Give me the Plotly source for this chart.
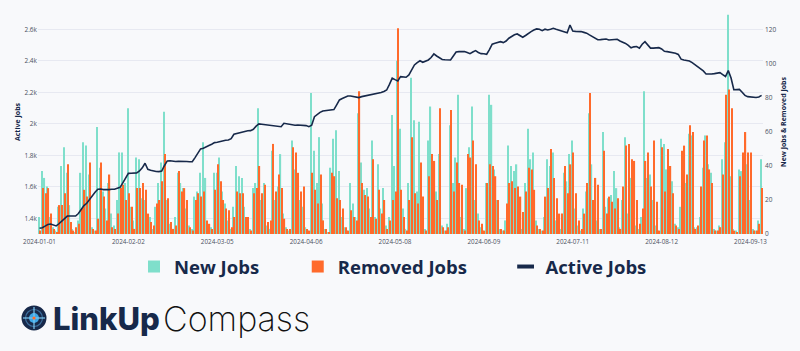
import plotly.graph_objects as go
import pandas as pd

# ---------------- data ----------------
x_tick_labels = ["2024-01-01", "2024-02-02", "2024-03-05", "2024-04-06", "2024-05-08",
                 "2024-06-09", "2024-07-11", "2024-08-12", "2024-09-13"]

new_jobs = [
    10, 37, 33, 28, 10, 4, 2,
    16, 40, 51, 36, 17, 3, 1,
    8, 36, 54, 52, 35, 4, 2,
    63, 39, 25, 15, 30, 12, 5,
    20, 48, 48, 30, 74, 16, 8,
    45, 44, 21, 20, 10, 10, 3,
    16, 30, 42, 72, 20, 6, 3,
    10, 36, 30, 27, 15, 5, 3,
    22, 25, 36, 54, 33, 5, 4,
    36, 36, 45, 25, 18, 8, 3,
    16, 40, 34, 33, 16, 5, 3,
    27, 30, 74, 20, 30, 5, 3,
    49, 20, 28, 47, 12, 4, 2,
    55, 38, 33, 20, 16, 4, 2,
    83, 49, 30, 57, 18, 3, 1,
    39, 56, 61, 37, 10, 4, 2,
    30, 18, 10, 71, 42, 26, 27,
    15, 55, 10, 41, 15, 27, 5,
    10, 70, 40, 102, 62, 15, 3,
    30, 92, 67, 25, 66, 13, 3,
    55, 75, 42, 25, 47, 5, 2,
    6, 64, 30, 45, 82, 10, 3,
    27, 51, 75, 20, 12, 4, 2,
    30, 82, 76, 38, 20, 3, 2,
    8, 52, 40, 37, 41, 5, 3,
    30, 62, 44, 48, 8, 3, 2,
    10, 44, 40, 48, 8, 2, 3,
    36, 31, 47, 55, 15, 5, 2,
    15, 25, 71, 41, 15, 8, 3,
    60, 16, 21, 23, 37, 27, 4,
    20, 57, 12, 33, 28, 5, 3,
    10, 84, 33, 35, 20, 5, 2,
    56, 53, 38, 35, 31, 6, 4,
    16, 43, 30, 59, 58, 4, 4,
    10, 39, 58, 41, 36, 3, 2,
    5, 44, 54, 129, 34, 3, 2,
    38, 37, 28, 41, 20, 3, 2,
    8, 44,
]

removed_jobs = [
    2, 27, 24, 27, 12, 3, 1,
    17, 17, 24, 41, 7, 2, 4,
    6, 15, 26, 22, 42, 3, 2,
    9, 42, 22, 8, 35, 4, 3,
    12, 27, 29, 20, 24, 16, 3,
    27, 27, 30, 26, 12, 7, 5,
    18, 20, 31, 47, 21, 7, 3,
    5, 37, 25, 27, 20, 4, 2,
    20, 24, 22, 25, 8, 6, 3,
    26, 41, 31, 20, 15, 14, 4,
    10, 25, 24, 24, 10, 10, 2,
    24, 27, 40, 24, 29, 7, 8,
    53, 25, 35, 27, 9, 3, 3,
    51, 48, 36, 25, 28, 3, 2,
    36, 26, 18, 35, 8, 3, 1,
    36, 34, 21, 20, 15, 4, 2,
    14, 10, 8, 84, 30, 23, 22,
    10, 44, 9, 26, 12, 20, 3,
    8, 20, 25, 121, 26, 10, 2,
    20, 57, 24, 18, 42, 22, 2,
    34, 47, 43, 20, 74, 4, 2,
    4, 73, 25, 42, 30, 29, 2,
    47, 45, 55, 41, 8, 6, 2,
    30, 41, 40, 34, 20, 3, 2,
    18, 30, 31, 27, 28, 22, 13,
    25, 39, 38, 26, 5, 3, 2,
    22, 27, 50, 33, 21, 12, 12,
    40, 24, 41, 48, 24, 8, 3,
    12, 30, 83, 20, 33, 29, 3,
    49, 12, 22, 19, 15, 21, 3,
    28, 52, 53, 44, 43, 20, 6,
    15, 43, 48, 28, 55, 19, 2,
    51, 25, 50, 40, 24, 5, 3,
    49, 52, 35, 64, 60, 3, 5,
    28, 55, 58, 38, 30, 2, 2,
    4, 35, 82, 85, 74, 2, 1,
    34, 48, 60, 48, 48, 2, 2,
    6, 27,
]

active_jobs = [
    1336, 1340, 1350, 1360, 1363, 1358, 1351, 1365, 1380, 1400,
    1414, 1414, 1412, 1414, 1430, 1455, 1480, 1495, 1520, 1545,
    1565, 1584, 1586, 1582, 1580, 1582, 1584, 1584, 1590, 1596,
    1625, 1660, 1685, 1686, 1685, 1688, 1700, 1720, 1749, 1711,
    1705, 1700, 1697, 1696, 1700, 1735, 1764, 1765, 1762, 1760,
    1762, 1760, 1758, 1760, 1759, 1759, 1785, 1815, 1840, 1844,
    1855, 1862, 1870, 1880, 1882, 1888, 1893, 1895, 1897, 1905,
    1933, 1938, 1943, 1948, 1952, 1955, 1956, 1965, 1985, 1999,
    1997, 1995, 1994, 1992, 1990, 1988, 1986, 1981, 2003, 2000,
    1998, 1995, 1990, 1992, 1992, 1990, 1988, 1981, 1990, 2045,
    2060, 2072, 2081, 2083, 2085, 2087, 2090, 2120, 2151, 2160,
    2168, 2176, 2176, 2174, 2170, 2166, 2172, 2176, 2178, 2180,
    2185, 2190, 2193, 2198, 2205, 2214, 2250, 2289, 2280, 2272,
    2299, 2298, 2295, 2310, 2340, 2373, 2388, 2400, 2390, 2398,
    2405, 2420, 2443, 2430, 2416, 2408, 2406, 2405, 2405, 2430,
    2455, 2458, 2458, 2458, 2452, 2445, 2455, 2464, 2452, 2445,
    2444, 2441, 2470, 2505, 2511, 2516, 2521, 2515, 2525, 2543,
    2555, 2565, 2570, 2560, 2549, 2560, 2574, 2585, 2595, 2602,
    2600, 2591, 2600, 2595, 2600, 2606, 2600, 2594, 2588, 2582,
    2578, 2627, 2588, 2586, 2586, 2585, 2580, 2575, 2564, 2555,
    2545, 2533, 2534, 2536, 2538, 2532, 2534, 2535, 2536, 2525,
    2518, 2510, 2498, 2482, 2488, 2490, 2480, 2505, 2521, 2500,
    2480, 2480, 2482, 2483, 2475, 2460, 2458, 2455, 2452, 2448,
    2440, 2410, 2405, 2402, 2398, 2388, 2375, 2365, 2352, 2335,
    2316, 2314, 2316, 2318, 2320, 2324, 2312, 2300, 2337, 2290,
    2216, 2215, 2218, 2200, 2180, 2172, 2170, 2168, 2167, 2170,
    2180,
]

dates = pd.date_range("2024-01-01", periods=len(active_jobs), freq="D")
n = len(dates)
new_jobs = new_jobs[:n]
removed_jobs = removed_jobs[:n]

# ---------------- style / layout helpers ----------------
W, H = 800, 351
ML, MR, MT, MB = 38, 37, 10, 117
PW = W - ML - MR
PH = H - MT - MB


def px2x(px):
    return (px - ML) / PW


def py2y(py):
    return (H - MB - py) / PH


NAVY = "#17294a"
TEAL = "#7fdfcb"
ORANGE = "#ff6a2b"
BG = "#f8f9fb"
TICK = "#4a5060"
PAD = "\u00a0" * 7

fig = go.Figure()
fig.add_trace(go.Bar(x=dates, y=new_jobs, name="New Jobs" + PAD,
                     marker=dict(color=TEAL, line=dict(width=0)), yaxis="y"))
fig.add_trace(go.Bar(x=dates, y=removed_jobs, name="Removed Jobs" + PAD,
                     marker=dict(color=ORANGE, line=dict(width=0)), yaxis="y"))
fig.add_trace(go.Scatter(x=dates, y=active_jobs, name="Active Jobs", mode="lines",
                         line=dict(color=NAVY, width=1.6), yaxis="y2",
                         legendgroup="active", showlegend=False))
# legend key for the line series (short thick dash, as in the reference)
fig.add_trace(go.Scatter(x=[None], y=[None], name="Active Jobs", mode="markers", yaxis="y2",
                         legendgroup="active", showlegend=True,
                         marker=dict(symbol="line-ew", size=12, color=NAVY,
                                     line=dict(width=4, color=NAVY))))

fig.update_layout(
    width=W, height=H,
    margin=dict(l=ML, r=MR, t=MT, b=MB),
    paper_bgcolor=BG, plot_bgcolor=BG,
    barmode="group", bargap=0.12, bargroupgap=0,
    font=dict(family="Open Sans", color=TICK, size=6),
    xaxis=dict(
        type="date",
        range=["2023-12-31 11:00", "2024-09-17 12:00"],
        tickvals=x_tick_labels, ticktext=x_tick_labels,
        showgrid=False, zeroline=False, showline=False, ticks="",
        tickfont=dict(size=6.3, color=TICK), ticklabelstandoff=3,
    ),
    yaxis=dict(
        side="right", range=[0, 131.8], dtick=20, showgrid=False, zeroline=False,
        tickfont=dict(size=6.5, color=TICK), ticklabelstandoff=1,
        title=dict(text="New Jobs & Removed Jobs", font=dict(size=7, color=NAVY, weight="bold"), standoff=5),
    ),
    yaxis2=dict(
        overlaying="y", side="left", range=[1300, 2722], dtick=200, tick0=1400,
        tickformat="~s",
        showgrid=True, gridcolor="#e7e9f1", gridwidth=1, zeroline=False,
        tickfont=dict(size=6.5, color=TICK),
        title=dict(text="Active Jobs", font=dict(size=7, color=NAVY, weight="bold"), standoff=2),
    ),
    legend=dict(
        orientation="h", x=px2x(393), xanchor="center", y=py2y(267), yanchor="middle",
        font=dict(family="Open Sans", size=18.5, color=NAVY, weight="bold"),
        bgcolor="rgba(0,0,0,0)", itemwidth=30, traceorder="normal", itemsizing="trace",
    ),
    showlegend=True,
)

# ---------------- logo ----------------
cx, cy, r = 34, 318, 12.5
shapes = [
    dict(type="circle", xref="paper", yref="paper", x0=px2x(cx - r), x1=px2x(cx + r),
         y0=py2y(cy + r), y1=py2y(cy - r), fillcolor=NAVY, line=dict(width=0)),
    dict(type="circle", xref="paper", yref="paper", x0=px2x(cx - 8.5), x1=px2x(cx + 8.5),
         y0=py2y(cy + 8.5), y1=py2y(cy - 8.5), fillcolor="rgba(0,0,0,0)", line=dict(color="#3d6f9e", width=1.2)),
    dict(type="circle", xref="paper", yref="paper", x0=px2x(cx - 5), x1=px2x(cx + 5),
         y0=py2y(cy + 5), y1=py2y(cy - 5), fillcolor="#3ea6e6", line=dict(width=0)),
    dict(type="line", xref="paper", yref="paper", x0=px2x(cx - 11), x1=px2x(cx + 11),
         y0=py2y(cy), y1=py2y(cy), line=dict(color="#7cc8f0", width=1.2)),
    dict(type="line", xref="paper", yref="paper", x0=px2x(cx), x1=px2x(cx),
         y0=py2y(cy - 11), y1=py2y(cy + 11), line=dict(color="#7cc8f0", width=1.2)),
    dict(type="circle", xref="paper", yref="paper", x0=px2x(cx - 1.6), x1=px2x(cx + 1.6),
         y0=py2y(cy + 1.6), y1=py2y(cy - 1.6), fillcolor="#ff6a2b", line=dict(width=0)),
]
fig.update_layout(shapes=shapes)

fig.add_annotation(text="LinkUp", xref="paper", yref="paper", x=px2x(51), y=py2y(318),
                   xanchor="left", yanchor="middle", showarrow=False,
                   font=dict(family="Inter", size=31, color=NAVY, weight=800))
fig.add_annotation(text="Compass", xref="paper", yref="paper", x=px2x(161), y=py2y(318),
                   xanchor="left", yanchor="middle", showarrow=False,
                   font=dict(family="Inter", size=34, color="#111111", weight=200))

fig.write_html("out.html")
